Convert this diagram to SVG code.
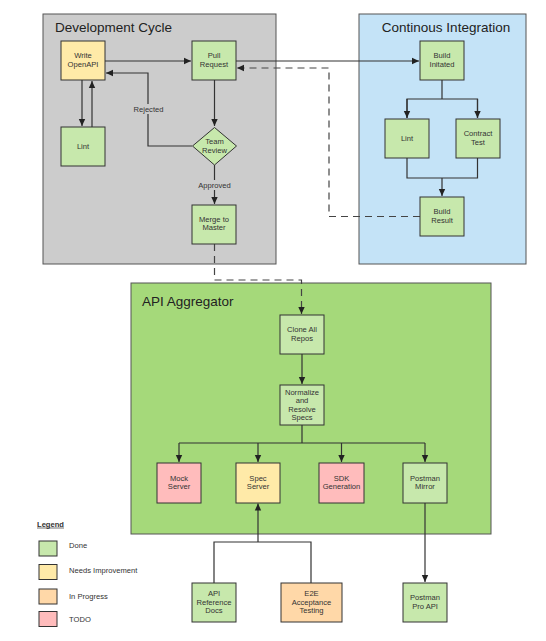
<svg xmlns="http://www.w3.org/2000/svg" width="546" height="641" viewBox="0 0 546 641">
<style>
text{font-family:"Liberation Sans",Arial,sans-serif;fill:#333;}
.t{font-size:7.6px;text-anchor:middle;}
.h{font-size:13.5px;fill:#222;}
.n{stroke:#333;stroke-width:1;}
.done{fill:#c7e8ac;}
.imp{fill:#ffeaa8;}
.prog{fill:#ffd8a8;}
.todo{fill:#ffbcbc;}
.c{fill:none;stroke:#333;stroke-width:1.2;}
.d{fill:none;stroke:#444;stroke-width:1.2;stroke-dasharray:7 5;}
.lg{font-size:7.6px;}
</style>
<defs>
<marker id="a" markerWidth="8" markerHeight="8" refX="7" refY="4" orient="auto" markerUnits="userSpaceOnUse">
<path d="M0,0.8 L7,4 L0,7.2 Z" fill="#222"/>
</marker>
</defs>
<rect width="546" height="641" fill="#fff"/>

<g id="dev-cycle">
<rect x="43" y="14" width="233" height="250" fill="#cccccc" stroke="#555" stroke-width="1"/>
<text x="55" y="32" class="h">Development Cycle</text>
</g>
<g id="ci">
<rect x="359" y="14" width="167" height="250" fill="#c4e3f7" stroke="#555" stroke-width="1"/>
<text x="446" y="32" class="h" text-anchor="middle">Continous Integration</text>
</g>
<g id="aggregator">
<rect x="131" y="283" width="360" height="251" fill="#a5d97a" stroke="#555" stroke-width="1"/>
<text x="142" y="306" class="h">API Aggregator</text>
</g>

<g id="connectors">
<path class="c" d="M105,61 H191" marker-end="url(#a)"/>
<path class="c" d="M192,146 H148 V73 H106" marker-end="url(#a)"/>
<path class="c" d="M82,80 V126" marker-end="url(#a)"/>
<path class="c" d="M92,127 V81" marker-end="url(#a)"/>
<path class="c" d="M214.5,80 V126" marker-end="url(#a)"/>
<path class="c" d="M214.5,165 V204" marker-end="url(#a)"/>
<path class="c" d="M236,61 H419" marker-end="url(#a)"/>
<path class="d" d="M420,216.5 H329 V68 H237" marker-end="url(#a)"/>
<path class="d" d="M214.5,244 V280 H301.5 V314" marker-end="url(#a)"/>
<path class="c" d="M442,80 V99 M407,118 V99 H477.5 V118"/>
<path class="c" d="M407,99 V118" marker-end="url(#a)"/>
<path class="c" d="M477.5,99 V118" marker-end="url(#a)"/>
<path class="c" d="M407,158 V178 H477.5 V158 M442,178 V196" marker-end="url(#a)"/>
<path class="c" d="M302,354 V384" marker-end="url(#a)"/>
<path class="c" d="M302,425 V443 M179,443 H425"/>
<path class="c" d="M179,443 V462" marker-end="url(#a)"/>
<path class="c" d="M258,443 V462" marker-end="url(#a)"/>
<path class="c" d="M341.5,443 V462" marker-end="url(#a)"/>
<path class="c" d="M425,443 V462" marker-end="url(#a)"/>
<path class="c" d="M214,583 V542 H311 V583 M258,542 V503.5" marker-end="url(#a)"/>
<path class="c" d="M425,503 V582" marker-end="url(#a)"/>
<rect x="130" y="104" width="37" height="10" fill="#cccccc"/>
<text x="148.5" y="111.5" class="t">Rejected</text>
<rect x="195" y="180" width="39" height="10" fill="#cccccc"/>
<text x="214.5" y="187.5" class="t">Approved</text>
</g>

<g id="write-openapi"><rect x="61" y="41" width="44" height="39" class="n imp"/><text x="83" y="58" class="t">Write</text><text x="83" y="66.5" class="t">OpenAPI</text></g>
<g id="pull-request"><rect x="192" y="41" width="44" height="39" class="n done"/><text x="214" y="58" class="t">Pull</text><text x="214" y="66.5" class="t">Request</text></g>
<g id="dev-lint"><rect x="61" y="127" width="44" height="39" class="n done"/><text x="83" y="149" class="t">Lint</text></g>
<g id="team-review"><path d="M214.5,127.5 L236.5,146 L214.5,165 L192.5,146 Z" class="n done"/><text x="214.5" y="144" class="t">Team</text><text x="214.5" y="152.5" class="t">Review</text></g>
<g id="merge-master"><rect x="192" y="205" width="44" height="39" class="n done"/><text x="214" y="221.5" class="t">Merge to</text><text x="214" y="230" class="t">Master</text></g>

<g id="build-initiated"><rect x="420" y="41" width="44" height="39" class="n done"/><text x="442" y="58" class="t">Build</text><text x="442" y="66.5" class="t">Initated</text></g>
<g id="ci-lint"><rect x="385" y="119" width="44" height="39" class="n done"/><text x="407" y="141" class="t">Lint</text></g>
<g id="contract-test"><rect x="456" y="119" width="44" height="39" class="n done"/><text x="478" y="136" class="t">Contract</text><text x="478" y="144.5" class="t">Test</text></g>
<g id="build-result"><rect x="420" y="197" width="44" height="39" class="n done"/><text x="442" y="214" class="t">Build</text><text x="442" y="222.5" class="t">Result</text></g>

<g id="clone-repos"><rect x="280" y="315" width="44" height="39" class="n done"/><text x="302" y="332" class="t">Clone All</text><text x="302" y="340.5" class="t">Repos</text></g>
<g id="normalize"><rect x="280" y="385" width="44" height="40" class="n done"/><text x="302" y="394.5" class="t">Normalize</text><text x="302" y="403" class="t">and</text><text x="302" y="411.5" class="t">Resolve</text><text x="302" y="420" class="t">Specs</text></g>
<g id="mock-server"><rect x="157" y="463" width="44" height="40" class="n todo"/><text x="179" y="480.5" class="t">Mock</text><text x="179" y="489" class="t">Server</text></g>
<g id="spec-server"><rect x="236" y="463" width="44" height="40" class="n imp"/><text x="258" y="480.5" class="t">Spec</text><text x="258" y="489" class="t">Server</text></g>
<g id="sdk-generation"><rect x="319" y="463" width="45" height="40" class="n todo"/><text x="341.5" y="480.5" class="t">SDK</text><text x="341.5" y="489" class="t">Generation</text></g>
<g id="postman-mirror"><rect x="403" y="463" width="44" height="40" class="n done"/><text x="425" y="480.5" class="t">Postman</text><text x="425" y="489" class="t">Mirror</text></g>

<g id="api-ref-docs"><rect x="192" y="583" width="44" height="39" class="n done"/><text x="214" y="596" class="t">API</text><text x="214" y="604.5" class="t">Reference</text><text x="214" y="613" class="t">Docs</text></g>
<g id="e2e"><rect x="281" y="583" width="61" height="39" class="n prog"/><text x="311.5" y="596" class="t">E2E</text><text x="311.5" y="604.5" class="t">Acceptance</text><text x="311.5" y="613" class="t">Testing</text></g>
<g id="postman-pro"><rect x="403" y="583" width="44" height="39" class="n done"/><text x="425" y="600" class="t">Postman</text><text x="425" y="608.5" class="t">Pro API</text></g>

<g id="legend">
<text x="37" y="526.5" class="lg" font-weight="bold">Legend</text>
<line x1="37" y1="528" x2="64" y2="528" stroke="#333" stroke-width="0.7"/>
<rect x="39" y="541" width="18" height="15" class="n done"/><text x="69" y="547.5" class="lg">Done</text>
<rect x="39" y="564.5" width="18" height="15" class="n imp"/><text x="69" y="573" class="lg">Needs Improvement</text>
<rect x="39" y="589" width="18" height="15" class="n prog"/><text x="69" y="598.5" class="lg">In Progress</text>
<rect x="39" y="611.5" width="18" height="15" class="n todo"/><text x="69" y="622" class="lg">TODO</text>
</g>
</svg>
